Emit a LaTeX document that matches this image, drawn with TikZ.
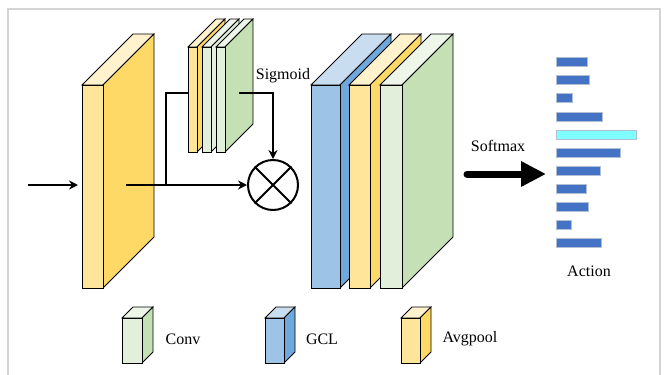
\documentclass[tikz,border=0pt]{standalone}
\usepackage{fontspec}
\setmainfont{Liberation Serif}
\usetikzlibrary{arrows.meta}
\definecolor{yfront}{HTML}{FFE599}
\definecolor{yside}{HTML}{FFD966}
\definecolor{ytop}{HTML}{FFF2CC}
\definecolor{bfront}{HTML}{9DC3E6}
\definecolor{bside}{HTML}{6FA8DC}
\definecolor{btop}{HTML}{C9DDF1}
\definecolor{gfront}{HTML}{E2EFDA}
\definecolor{gside}{HTML}{C5E0B4}
\definecolor{gtop}{HTML}{EEF6EA}
\definecolor{barblue}{HTML}{4472C4}
\definecolor{barcyan}{HTML}{7FFFFF}
\definecolor{baredge}{HTML}{B2BED2}
\definecolor{framegray}{HTML}{D4D4D4}
\newcommand{\cuboid}[8]{%
  \filldraw[fill=#8,edge] (#1,#2) -- ++(#5,-#5) -- ++(#3,0) -- ++(-#5,#5) -- cycle;
  \filldraw[fill=#7,edge] ({#1+#3},#2) -- ++(#5,-#5) -- ++(0,#4) -- ++(-#5,#5) -- cycle;
  \filldraw[fill=#6,edge] (#1,#2) rectangle ++(#3,#4);
}
\newcommand{\actbar}[4]{%
  \filldraw[fill=#4,draw=baredge,line width=1pt] (556,#1) rectangle (#2,{#1+#3});
}
\begin{document}
\begin{tikzpicture}[x=1pt,y=-1pt,
  edge/.style={draw=black,line width=0.8pt},
  conn/.style={line width=2pt,draw=black},
  arr/.style={conn,-{Stealth[length=9pt,width=9pt]}},
  lbl/.style={font=\fontsize{16}{19}\selectfont,inner sep=0pt}]
\useasboundingbox (0,0) rectangle (665,375);
% frame
\draw[framegray,line width=1.5pt] (8,375) -- (8,9) -- (660,9) -- (660,375);
% coordinates
\coordinate (in) at (28,185);
\coordinate (inend) at (78,185);
\coordinate (out) at (126,185);
\coordinate (jn) at (166,185);
\coordinate (sbin) at (189,93);
\coordinate (sbout) at (239,93);
\node[circle,draw,line width=2pt,minimum size=50pt,inner sep=0pt] (mul) at (273,185) {};
% input block
\cuboid{82}{85}{21}{203}{51}{yfront}{yside}{ytop}
\draw[arr] (in) -- (inend);
\draw[arr] (out) -- (mul.west);
\draw[conn] (jn) |- (sbin);
% small blocks
\cuboid{188}{47}{9}{105}{28}{yfront}{yside}{ytop}
\cuboid{202}{47}{9}{105}{28}{gfront}{gfront}{gtop}
\cuboid{216}{47}{9}{105}{28}{gfront}{gside}{gtop}
\draw[arr] (sbout) -| (mul.north);
\draw[line width=2pt] (mul.north west) -- (mul.south east) (mul.north east) -- (mul.south west);
\node[lbl] (sig) at (283,76) {Sigmoid};
% big blocks
\cuboid{311}{85}{29}{203}{51}{bfront}{bside}{btop}
\cuboid{349}{85}{21}{203}{51}{yfront}{yside}{ytop}
\cuboid{380}{85}{22}{203}{51}{gfront}{gside}{gtop}
% softmax
\coordinate (sm1) at (467,174);
\coordinate (sm2) at (546,174);
\draw[line width=7pt,line cap=round,-{Triangle[length=25pt,width=24pt]}] (sm1) -- (sm2);
\node[lbl] (smx) at (498,146) {Softmax};
% bars
\actbar{57}{587}{9}{barblue}
\actbar{75}{589}{9}{barblue}
\actbar{93}{572}{9}{barblue}
\actbar{112}{602}{9}{barblue}
\actbar{130}{636}{9}{barcyan}
\actbar{148}{620}{9}{barblue}
\actbar{166}{600}{9}{barblue}
\actbar{184}{586}{9}{barblue}
\actbar{202}{588}{9}{barblue}
\actbar{220}{571}{9}{barblue}
\actbar{238}{601}{9}{barblue}
\node[lbl] (act) at (589,271) {Action};
% legend
\cuboid{122}{318}{20}{45}{11}{gfront}{gside}{gtop}
\node[lbl] (lconv) at (183,339) {Conv};
\cuboid{265}{318}{19}{45}{11}{bfront}{bside}{btop}
\node[lbl] (lgcl) at (322,339) {GCL};
\cuboid{401}{318}{19}{45}{11}{yfront}{yside}{ytop}
\node[lbl] (lavg) at (470,339) {Avgpool};
\end{tikzpicture}
\end{document}
